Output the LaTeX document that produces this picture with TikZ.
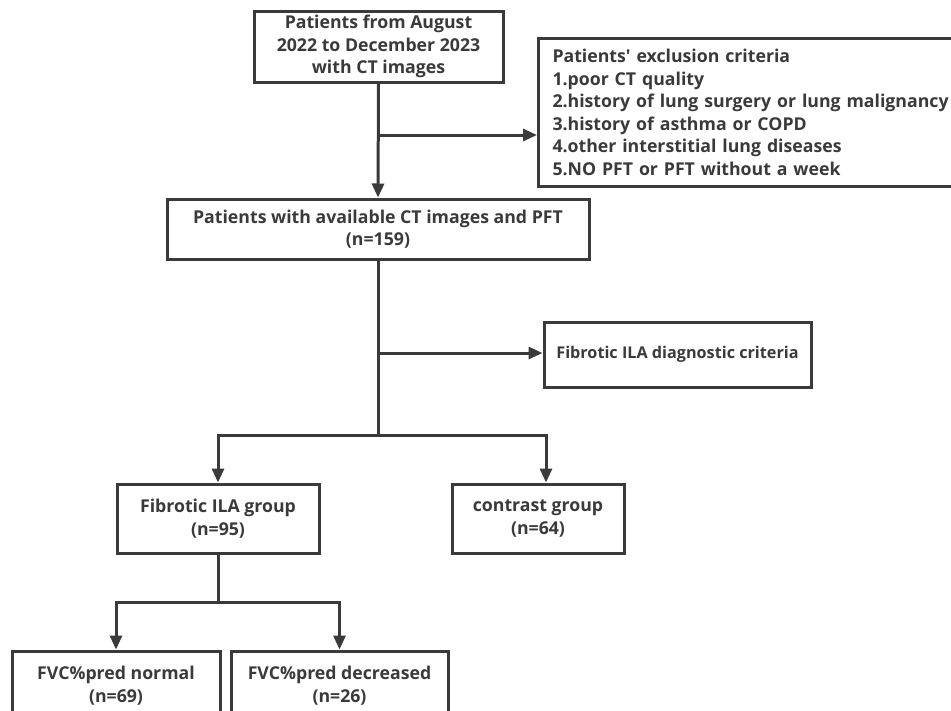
\documentclass[tikz,border=0pt]{standalone}
\usepackage{fontspec}
\setmainfont{Open Sans}
\usetikzlibrary{arrows.meta,calc}
\definecolor{ink}{HTML}{3A3A3A}
\begin{document}
\begin{tikzpicture}[x=1pt,y=-1pt,
  box/.style={draw=ink,line width=3pt,text=ink,align=center,inner sep=0pt,
    font=\fontsize{17.7}{22.5}\selectfont\bfseries},
  conn/.style={draw=ink,line width=3pt},
  arr/.style={conn,-{Triangle[length=14pt,width=12pt]}}]
\useasboundingbox (0,0) rectangle (951,710);
\fill[white] (0,0) rectangle (951,710);
\clip (0,0) rectangle (951,710);
\node[box,minimum width=249pt,minimum height=71pt] (top) at (378.5,46.5)
  {Patients from August\\2022 to December 2023\\with CT images};
\node[box,anchor=north west,align=left,inner xsep=14pt,text width=420pt,
  minimum height=148pt] (excl) at (537,37)
  {Patients\textquotesingle{} exclusion criteria\\1.poor CT quality\\2.history of lung surgery or lung malignancy\\3.history of asthma or COPD\\4.other interstitial lung diseases\\5.NO PFT or PFT without a week};
\node[box,minimum width=422pt,minimum height=60pt] (pft) at (378,229)
  {Patients with available CT images and PFT\\(n=159)};
\node[box,minimum width=267pt,minimum height=65pt,
  font=\fontsize{16.2}{22}\selectfont\bfseries] (diag) at (677.5,354.5)
  {Fibrotic ILA diagnostic criteria};
\node[box,minimum width=202pt,minimum height=69pt] (ila) at (218,518.5)
  {Fibrotic ILA group\\(n=95)};
\node[box,minimum width=172pt,minimum height=69pt] (ctr) at (538,518.5)
  {contrast group\\(n=64)};
\node[box,minimum width=208pt,minimum height=69pt] (fvcn) at (116,685.5)
  {FVC\%pred normal\\(n=69)};
\node[box,minimum width=217pt,minimum height=69pt] (fvcd) at (339.5,685.5)
  {FVC\%pred decreased\\(n=26)};
\coordinate (c1) at (378,135);
\coordinate (c2) at (378,353);
\coordinate (j2) at (378,435);
\coordinate (k) at (546,435);
\coordinate (j3) at (218,602);
\draw[arr] (top.south) -- (pft.north);
\draw[arr] (c1) -- (c1 -| excl.west);
\draw[conn] (pft.south) -- (j2);
\draw[arr] (c2) -- (c2 -| diag.west);
\draw[arr] (j2) -| (ila.north);
\draw[arr] (j2) -- (k) -- (k |- ctr.north);
\draw[conn] (ila.south) -- (j3);
\draw[arr] (j3) -| (fvcn.north);
\draw[arr] (j3) -| (fvcd.north);
\end{tikzpicture}
\end{document}
